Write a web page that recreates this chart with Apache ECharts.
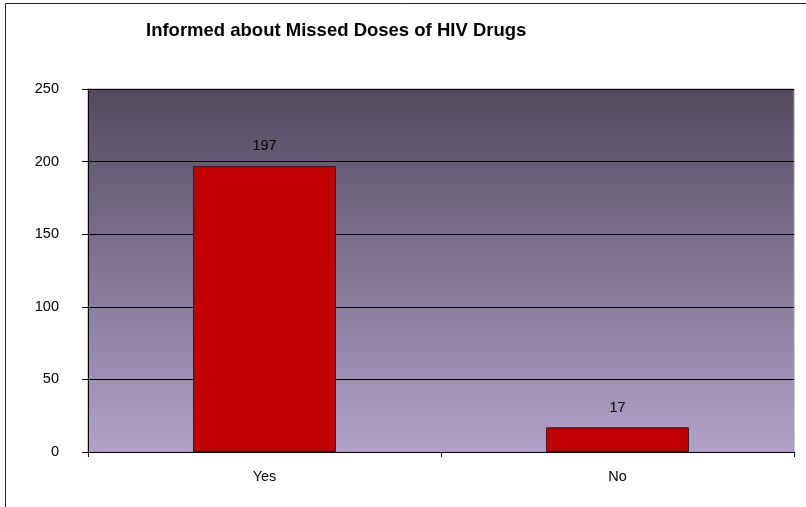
<!DOCTYPE html>
<html>
<head>
<meta charset="utf-8">
<script src="https://cdn.jsdelivr.net/npm/echarts@6/dist/echarts.min.js"></script>
<style>
  html, body { margin: 0; padding: 0; background: #fff; }
  #chart { width: 806px; height: 507px; }
</style>
</head>
<body>
<div id="chart"></div>
<script>
// Survey answers and counts
const categories = ['Yes', 'No'];
const counts = [197, 17];
const yTicks = [0, 50, 100, 150, 200, 250];
const chartTitle = 'Informed about Missed Doses of HIV Drugs';

const chart = echarts.init(document.getElementById('chart'));
const font = 'Liberation Sans, Arial, sans-serif';

chart.setOption({
  animation: false,
  backgroundColor: '#ffffff',
  title: {
    text: chartTitle,
    left: 146,
    top: 21,
    padding: 0,
    textStyle: { fontFamily: font, fontSize: 18.5, fontWeight: 'bold', color: '#000' }
  },
  grid: {
    left: 88, right: 12, top: 89, bottom: 55,
    show: true,
    borderWidth: 1,
    borderColor: '#9a9a9a',
    backgroundColor: new echarts.graphic.LinearGradient(0, 0, 0, 1, [
      { offset: 0, color: '#544a5f' },
      { offset: 1, color: '#b1a1c9' }
    ])
  },
  xAxis: {
    type: 'category',
    data: categories,
    boundaryGap: true,
    axisLine: { lineStyle: { color: '#000', width: 1 } },
    axisTick: { show: true, length: 5, lineStyle: { color: '#000' } },
    axisLabel: { fontFamily: font, fontSize: 14.5, color: '#000', margin: 17 }
  },
  yAxis: {
    type: 'value',
    min: yTicks[0],
    max: yTicks[yTicks.length - 1],
    interval: yTicks[1] - yTicks[0],
    axisLine: { show: true, lineStyle: { color: '#000', width: 1 } },
    axisTick: { show: true, length: 6, lineStyle: { color: '#000' } },
    axisLabel: { fontFamily: font, fontSize: 14.5, color: '#000', margin: 29 },
    splitLine: { show: true, lineStyle: { color: '#000', width: 1 } }
  },
  series: [{
    type: 'bar',
    data: counts,
    barWidth: '40.5%',
    itemStyle: { color: '#c00000', borderColor: '#3a1a1a', borderWidth: 1 },
    label: {
      show: true,
      position: 'top',
      distance: 12,
      fontFamily: font,
      fontSize: 14.5,
      color: '#000'
    }
  }],
  graphic: [
    // outer chart frame (top and left edges)
    { type: 'line', shape: { x1: 5.5, y1: 3.5, x2: 806, y2: 3.5 }, style: { stroke: '#222', lineWidth: 1 } },
    { type: 'line', shape: { x1: 5.5, y1: 3.5, x2: 5.5, y2: 507 }, style: { stroke: '#222', lineWidth: 1 } }
  ]
});
</script>
</body>
</html>
